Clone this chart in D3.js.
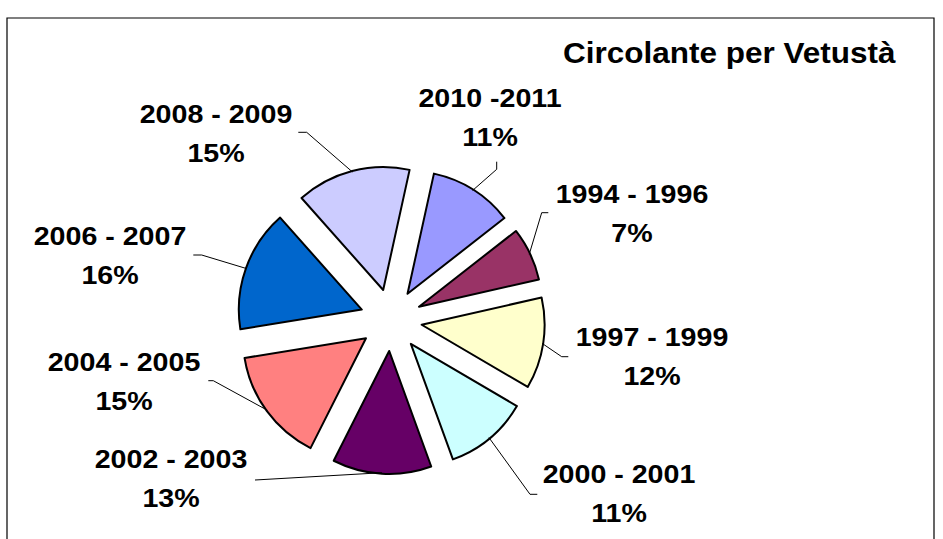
<!DOCTYPE html>
<html>
<head>
<meta charset="utf-8">
<script src="https://cdn.jsdelivr.net/npm/d3@7/dist/d3.min.js"></script>
<style>
  html, body { margin: 0; padding: 0; background: #fff; }
  svg { display: block; }
  text { font-family: "Liberation Sans", Arial, sans-serif; font-weight: bold; fill: #000; }
</style>
</head>
<body>
<svg id="chart" width="943" height="539"></svg>
<script>
// ---- data ----
const categories = ["1994 - 1996", "1997 - 1999", "2000 - 2001", "2002 - 2003",
                    "2004 - 2005", "2006 - 2007", "2008 - 2009", "2010 -2011"];
const shares = [7, 12, 11, 13, 15, 16, 15, 11];          // percent
const colors = ["#993366", "#FFFFCC", "#CCFFFF", "#660066",
                "#FF8080", "#0066CC", "#CCCCFF", "#9999FF"];
const title = "Circolante per Vetustà";

// ---- layout (positions of the manually placed labels and leader elbows) ----
const labelLayout = [
  { x: 632, y: 203, elbow: [541.7, 212.7], end: [548.3, 212.7] },
  { x: 652, y: 346, elbow: [561.7, 356.7], end: [568.3, 356.7] },
  { x: 619, y: 483, elbow: [530, 494.3],  end: [537.3, 494.3] },
  { x: 171, y: 468, elbow: [255, 480],    end: [255, 480] },
  { x: 124, y: 371, elbow: [213.3, 380.7], end: [208.3, 380.7] },
  { x: 110, y: 245, elbow: [201.7, 255],  end: [193.3, 255] },
  { x: 216, y: 123, elbow: [306.7, 132.3], end: [298.3, 132.3] },
  { x: 490, y: 107, elbow: [496.7, 169.3], end: [496.7, 161.7] }
];

const W = 943, H = 539;
const cx = 391, cy = 320, R = 123, explode = 31;
const startDeg = 52;

const svg = d3.select("#chart");

// frame
svg.append("path")
  .attr("d", `M7,${H + 2} L7,18 L934,18 L934,${H + 2}`)
  .attr("fill", "none").attr("stroke", "#000").attr("stroke-width", 1.2);

// title
svg.append("text")
  .attr("transform", `translate(${563},${63}) scale(1.05,1)`)
  .attr("font-size", 30)
  .text(title);

const pie = d3.pie().sort(null).value(d => d)
  .startAngle(startDeg * Math.PI / 180)
  .endAngle(startDeg * Math.PI / 180 + 2 * Math.PI);
const arcs = pie(shares);
const arc = d3.arc().innerRadius(0).outerRadius(R);

const g = svg.append("g").attr("transform", `translate(${cx},${cy})`);

const offset = d => {
  const m = (d.startAngle + d.endAngle) / 2;
  return [Math.sin(m) * explode, -Math.cos(m) * explode];
};

g.selectAll("path.slice").data(arcs).enter().append("path")
  .attr("class", "slice")
  .attr("transform", d => { const o = offset(d); return `translate(${o[0]},${o[1]})`; })
  .attr("d", arc)
  .attr("fill", (d, i) => colors[i])
  .attr("stroke", "#000").attr("stroke-width", 2).attr("stroke-linejoin", "round");

// leader lines
arcs.forEach((d, i) => {
  const m = (d.startAngle + d.endAngle) / 2;
  const o = offset(d);
  const sx = cx + o[0] + Math.sin(m) * (R - 1);
  const sy = cy + o[1] - Math.cos(m) * (R - 1);
  const L = labelLayout[i];
  svg.append("path")
    .attr("d", `M${sx},${sy} L${L.elbow[0]},${L.elbow[1]} L${L.end[0]},${L.end[1]}`)
    .attr("fill", "none").attr("stroke", "#000").attr("stroke-width", 1);
});

// labels
categories.forEach((c, i) => {
  const L = labelLayout[i];
  const t = svg.append("g").attr("transform", `translate(${L.x},${L.y}) scale(1.1,1)`);
  t.append("text").attr("text-anchor", "middle").attr("font-size", 26).text(c);
  t.append("text").attr("text-anchor", "middle").attr("font-size", 26).attr("y", 39)
    .text(shares[i] + "%");
});
</script>
</body>
</html>
